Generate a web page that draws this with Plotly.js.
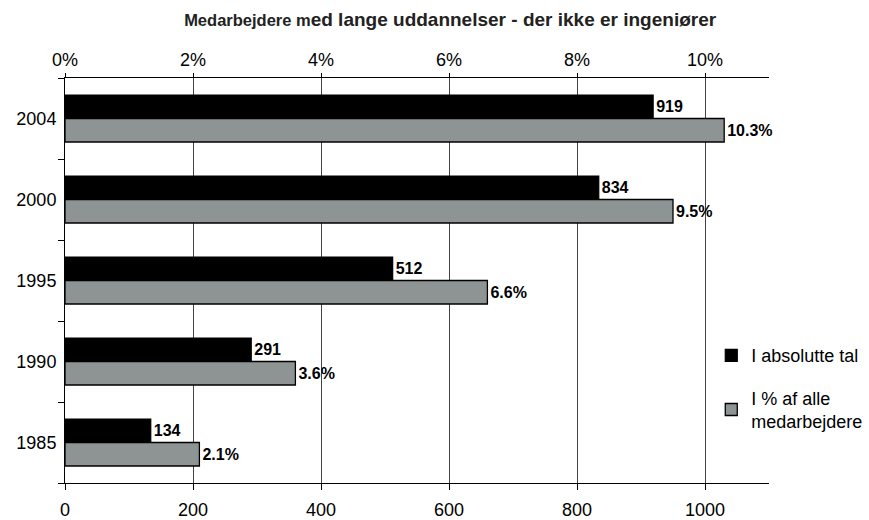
<!DOCTYPE html>
<html>
<head>
<meta charset="utf-8">
<script src="https://cdn.plot.ly/plotly-3.0.1.min.js"></script>
<style>html,body{margin:0;padding:0;background:#fff;}#chart{width:869px;height:520px;}</style>
</head>
<body>
<div id="chart"></div>
<script>
// Data
var years = ['1985', '1990', '1995', '2000', '2004'];
var absoluteValues = [134, 291, 512, 834, 919];
var percentValues = [2.1, 3.6, 6.6, 9.5, 10.3];
var bottomTicks = [0, 200, 400, 600, 800, 1000];
var topTicks = [0, 2, 4, 6, 8, 10];
var topTickLabels = ['0%', '2%', '4%', '6%', '8%', '10%'];
var seriesNames = ['I absolutte tal', 'I % af alle<br>medarbejdere'];

var FONT = 'Liberation Sans, Arial, sans-serif';
var BW = 0.29;

var traces = [
  {
    type: 'bar', orientation: 'h', name: seriesNames[0],
    x: absoluteValues, y: years, xaxis: 'x', yaxis: 'y',
    width: BW, offset: 0,
    marker: {color: '#000000', line: {color: '#000000', width: 1.2}},
    texttemplate: '%{x}', textposition: 'outside', cliponaxis: false,
    textfont: {family: FONT, size: 16, color: '#000', weight: 'bold'},
    legendgroup: 'a', hoverinfo: 'x+y'
  },
  {
    type: 'bar', orientation: 'h', name: seriesNames[1],
    x: percentValues, y: years, xaxis: 'x2', yaxis: 'y',
    width: BW, offset: -BW,
    marker: {color: '#8e9393', line: {color: '#000000', width: 1.3}},
    texttemplate: '%{x:.1f}%', textposition: 'outside', cliponaxis: false,
    textfont: {family: FONT, size: 16, color: '#000', weight: 'bold'},
    legendgroup: 'b', hoverinfo: 'x+y'
  }
];

var layout = {
  width: 869, height: 520,
  margin: {l: 65, r: 100, t: 78, b: 37, autoexpand: false},
  paper_bgcolor: '#fff', plot_bgcolor: '#fff',
  font: {family: FONT, size: 18, color: '#000'},
  barmode: 'overlay',
  showlegend: true,
  title: {
    text: "<span style='font-size:16.5px'>Medarbejdere m</span>ed lange uddannelser - der ikke er ingeniører",
    font: {family: FONT, size: 19, color: '#222', weight: 'bold'},
    x: 0.518, xanchor: 'center', y: 0.962, yanchor: 'middle'
  },
  xaxis: {
    range: [0, 1100], tickvals: bottomTicks, side: 'bottom',
    showline: true, linecolor: '#000', linewidth: 1,
    ticks: 'outside', ticklen: 6, tickcolor: '#000',
    showgrid: true, gridcolor: '#444', gridwidth: 1, zeroline: false,
    tickfont: {family: FONT, size: 18}, ticklabelstandoff: 4
  },
  xaxis2: {
    overlaying: 'x', side: 'top', anchor: 'y',
    range: [0, 11], tickmode: 'array', tickvals: topTicks, ticktext: topTickLabels,
    showline: true, linecolor: '#000', linewidth: 1,
    ticks: 'outside', ticklen: 4, tickcolor: '#000',
    showgrid: false, zeroline: false,
    tickfont: {family: FONT, size: 18}
  },
  yaxis: {
    type: 'category', categoryorder: 'array', categoryarray: years,
    tickson: 'boundaries', ticks: 'outside', ticklen: 6, tickcolor: '#000',
    showline: true, linecolor: '#000', linewidth: 1,
    showgrid: false, zeroline: false,
    tickfont: {family: FONT, size: 18}, ticklabelstandoff: 4
  },
  legend: {
    x: 0.918, xanchor: 'left', y: 0.36, yanchor: 'top',
    font: {family: FONT, size: 18, color: '#000'},
    traceorder: 'grouped', tracegroupgap: 16,
    bgcolor: 'rgba(0,0,0,0)', borderwidth: 0
  }
};

Plotly.newPlot('chart', traces, layout, {staticPlot: true, displayModeBar: false});
</script>
</body>
</html>
